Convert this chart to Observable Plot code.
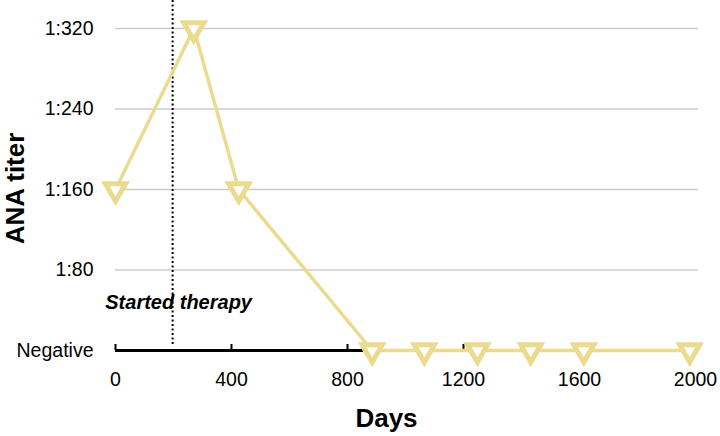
<!DOCTYPE html>
<html>
<head>
<meta charset="utf-8">
<script src="https://cdn.jsdelivr.net/npm/d3@7"></script>
<script src="https://cdn.jsdelivr.net/npm/@observablehq/plot@0.6"></script>
<style>
  html, body { margin: 0; padding: 0; background: #fff; }
</style>
</head>
<body>
<div id="chart"></div>
<script>
const days = [0, 270, 425, 885, 1065, 1248, 1432, 1615, 1980];
const titer = [160, 320, 160, 0, 0, 0, 0, 0, 0];
const therapyStart = 197;
const therapyLabel = "Started therapy";
const yTicks = [0, 80, 160, 240, 320];
const yTickLabels = ["Negative", "1:80", "1:160", "1:240", "1:320"];
const xTicks = [0, 400, 800, 1200, 1600, 2000];
const gridValues = [80, 160, 240, 320];

const data = days.map((d, i) => ({day: d, titer: titer[i]}));
const yLabelMap = new Map(yTicks.map((t, i) => [t, yTickLabels[i]]));
const lineColor = "#ebdb8e";

const chart = Plot.plot({
  width: 720,
  height: 436,
  marginLeft: 115,
  marginRight: 25,
  marginTop: 28,
  marginBottom: 86,
  style: {fontFamily: "'Liberation Sans', Arial, sans-serif", background: "#fff", color: "#000"},
  x: {domain: [0, 2000]},
  y: {domain: [0, 320]},
  marks: [
    Plot.ruleY(gridValues, {stroke: "#cccccc", strokeWidth: 1.5, insetRight: -3}),
    Plot.ruleY([0], {stroke: "#000", strokeWidth: 3}),
    Plot.ruleX(xTicks, {stroke: "#000", strokeWidth: 2, insetTop: 316}),
    Plot.axisX({ticks: xTicks, tickSize: 0, tickPadding: 22, fontSize: 19.5, label: null,
      tickFormat: d => String(d)}),
    Plot.axisY({ticks: yTicks, tickSize: 0, tickPadding: 22, fontSize: 19.5, label: null,
      tickFormat: d => yLabelMap.get(d)}),
    Plot.ruleX([therapyStart], {stroke: "#000", strokeWidth: 2, strokeDasharray: "2,2.5", insetTop: -28, insetBottom: 5}),
    Plot.text([{day: therapyStart, label: therapyLabel}], {
      x: "day", text: "label", frameAnchor: "bottom", dx: 6, dy: -42,
      fontSize: 20, fontWeight: "bold", fontStyle: "italic", fill: "#000"
    }),
    Plot.line(data, {x: "day", y: "titer", stroke: lineColor, strokeWidth: 3.5}),
    Plot.dot(data, {x: "day", y: "titer", symbol: "triangle", rotate: 180, r: 7.5,
      fill: "white", stroke: lineColor, strokeWidth: 5, strokeLinejoin: "miter"}),
    Plot.text(["Days"], {frameAnchor: "bottom", dx: -19, dy: 76, fontSize: 26, fontWeight: "bold", fill: "#000"}),
    Plot.text(["ANA titer"], {frameAnchor: "left", textAnchor: "middle", dx: -100, dy: -1, rotate: -90,
      fontSize: 26, fontWeight: "bold", fill: "#000"})
  ]
});
document.getElementById("chart").appendChild(chart);
</script>
</body>
</html>
